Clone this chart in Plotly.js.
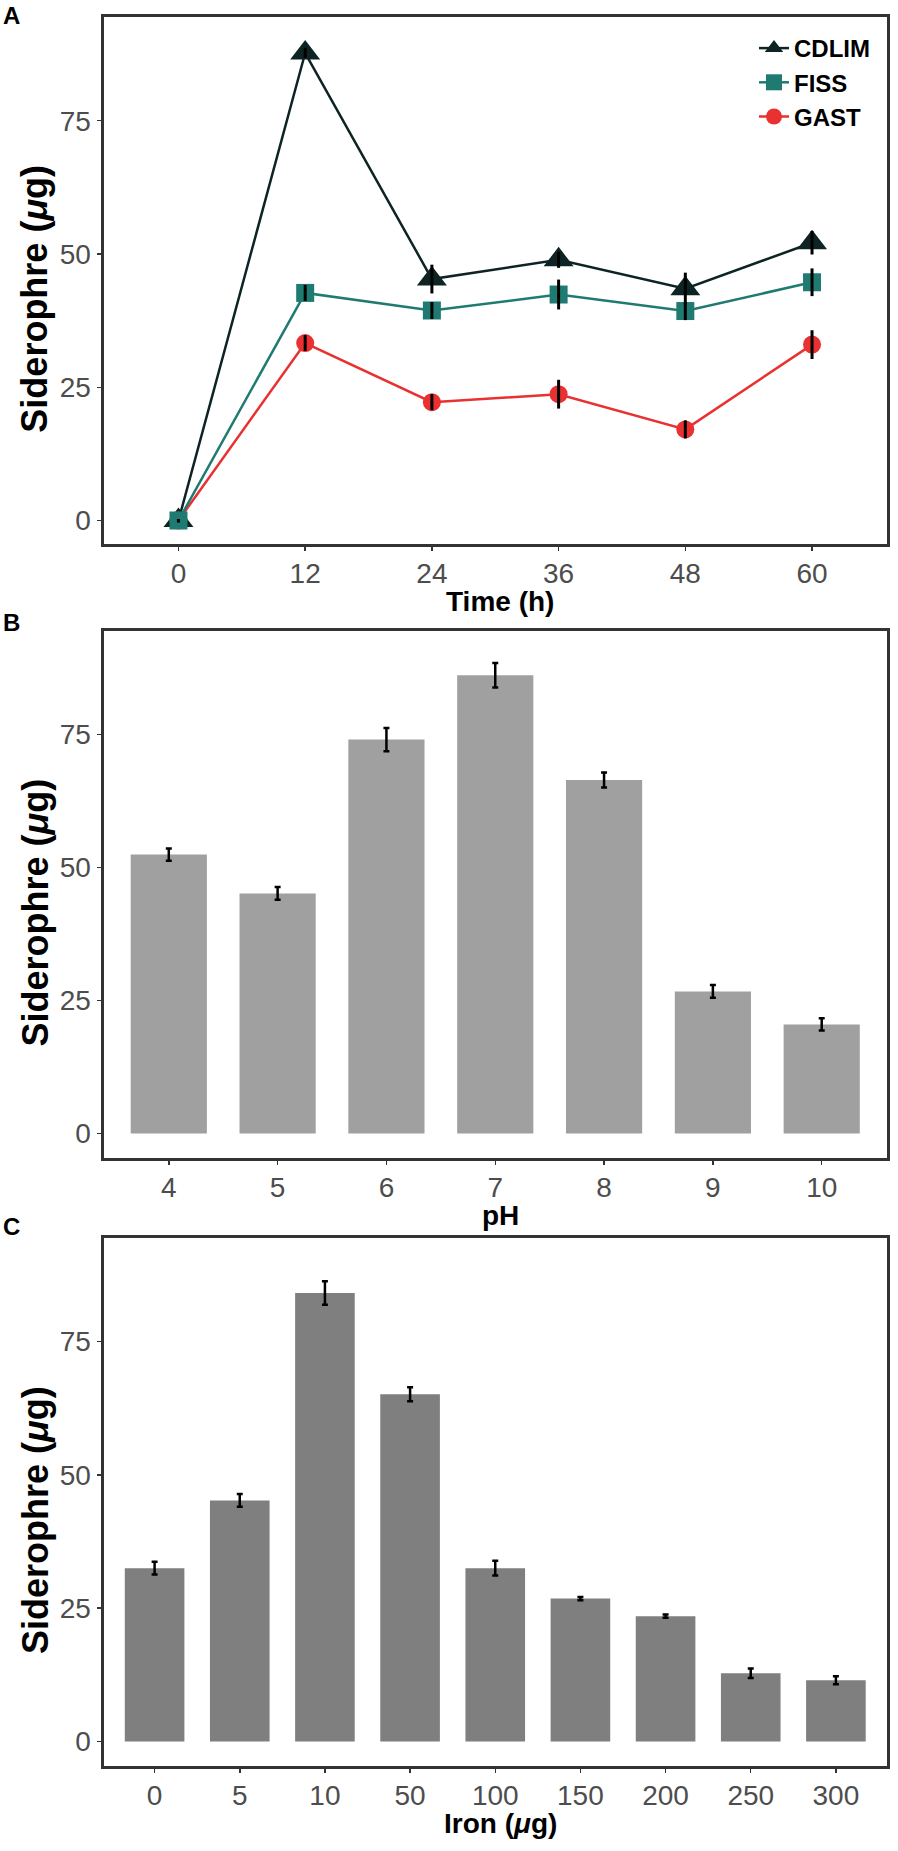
<!DOCTYPE html>
<html>
<head>
<meta charset="utf-8">
<script src="https://cdn.plot.ly/plotly-3.0.1.min.js"></script>
<style>
  html, body { margin: 0; padding: 0; background: #fff; }
  #graph { width: 898px; height: 1851px; }
</style>
</head>
<body>
<div id="graph"></div>
<script>
// Panel A: siderophore over time for three strains
const hours = [0, 12, 24, 36, 48, 60];
const cdlim = [0, 87.7, 45.3, 48.9, 43.5, 52.1];
const cdlimErr = [0.3, 1.0, 2.7, 1.5, 3.0, 2.2];
const fiss = [0, 42.7, 39.4, 42.4, 39.3, 44.7];
const fissErr = [0.3, 1.5, 1.6, 2.8, 1.7, 2.6];
const gast = [0, 33.3, 22.2, 23.7, 17.1, 33.0];
const gastErr = [0.3, 1.5, 1.5, 2.7, 1.7, 2.7];

// Panel B: pH
const phLevels = ['4', '5', '6', '7', '8', '9', '10'];
const phValues = [52.4, 45.1, 74.0, 86.1, 66.4, 26.7, 20.5];
const phErr = [1.15, 1.2, 2.2, 2.3, 1.4, 1.2, 1.15];

// Panel C: iron
const ironLevels = ['0', '5', '10', '50', '100', '150', '200', '250', '300'];
const ironValues = [32.5, 45.2, 84.1, 65.1, 32.5, 26.8, 23.5, 12.8, 11.5];
const ironErr = [1.2, 1.2, 2.2, 1.3, 1.4, 0.3, 0.3, 0.9, 0.75];

const yTicks = [0, 25, 50, 75];

const W = 898, H = 1851;
const px = v => v / W;           // pixel x -> paper
const py = v => 1 - v / H;       // pixel y (from top) -> paper

const FONT = 'Liberation Sans, Arial, Helvetica, sans-serif';
const colors = {CDLIM: '#0e2424', FISS: '#1f7b72', GAST: '#e83130'};

// plot frames in pixels (left, right, top, bottom)
const frameX = [103.5, 887];
const frames = {a: [17.3, 544], b: [631, 1158], c: [1238, 1766]};

function lineTrace(name, y, symbol, size, rank) {
  return {
    x: hours, y: y, name: name, legendrank: rank,
    type: 'scatter', mode: 'lines+markers',
    line: {color: colors[name], width: 2.5},
    marker: {color: colors[name], symbol: symbol, size: size},
    xaxis: 'x', yaxis: 'y'
  };
}

// error bars go in their own traces so they sit on top of the markers
function errTrace(y, err) {
  return {
    x: hours, y: y, type: 'scatter', mode: 'markers', showlegend: false,
    marker: {size: 1, color: 'rgba(0,0,0,0)'},
    error_y: {type: 'data', array: err, visible: true, color: '#000', thickness: 3, width: 0},
    xaxis: 'x', yaxis: 'y', hoverinfo: 'skip'
  };
}

const traces = [
  lineTrace('CDLIM', cdlim, 'triangle-up', 26, 1),
  lineTrace('GAST', gast, 'circle', 18, 3),
  lineTrace('FISS', fiss, 'square', 18, 2),
  errTrace(cdlim, cdlimErr),
  errTrace(gast, gastErr),
  errTrace(fiss, fissErr),
  {
    x: phLevels, y: phValues, type: 'bar', width: 0.7, showlegend: false,
    marker: {color: '#a0a0a0'},
    error_y: {type: 'data', array: phErr, visible: true, color: '#000', thickness: 2.5, width: 3},
    xaxis: 'x2', yaxis: 'y2'
  },
  {
    x: ironLevels, y: ironValues, type: 'bar', width: 0.7, showlegend: false,
    marker: {color: '#7f7f7f'},
    error_y: {type: 'data', array: ironErr, visible: true, color: '#000', thickness: 2.5, width: 3},
    xaxis: 'x3', yaxis: 'y3'
  }
];

function axisBase() {
  return {
    showline: true, mirror: true, linecolor: '#333333', linewidth: 3,
    showgrid: false, zeroline: false,
    ticks: 'outside', ticklen: 4, tickwidth: 1.5, tickcolor: '#333333',
    tickfont: {family: FONT, size: 28, color: '#4d4d4d'},
    fixedrange: true
  };
}

function xAxis(anchor, extra) {
  return Object.assign(axisBase(), {
    domain: [px(frameX[0]), px(frameX[1])], anchor: anchor,
    ticklabelstandoff: -2
  }, extra);
}

function yAxis(frame, range, anchor) {
  return Object.assign(axisBase(), {
    domain: [py(frame[1]), py(frame[0])], anchor: anchor,
    range: range, tickvals: yTicks
  });
}

const layout = {
  width: W, height: H,
  margin: {l: 0, r: 0, t: 0, b: 0},
  paper_bgcolor: '#fff', plot_bgcolor: '#fff',
  font: {family: FONT},
  showlegend: true,
  legend: {
    x: px(754), y: py(26), xanchor: 'left', yanchor: 'top',
    bgcolor: 'rgba(0,0,0,0)', itemwidth: 30,
    font: {family: FONT, size: 24, color: '#000', weight: 'bold'}
  },
  xaxis: xAxis('y', {range: [-7.1, 67.1], tickvals: hours}),
  yaxis: yAxis(frames.a, [-4.4, 94.4], 'x'),
  xaxis2: xAxis('y2', {type: 'category', range: [-0.6, 6.6]}),
  yaxis2: yAxis(frames.b, [-4.6, 94.4], 'x2'),
  xaxis3: xAxis('y3', {type: 'category', range: [-0.6, 8.6]}),
  yaxis3: yAxis(frames.c, [-4.6, 94.4], 'x3'),
  annotations: []
};

const yTitle = '<b>Siderophre (<i>μ</i>g)</b>';
const panels = [
  {label: 'A', labelY: 15.5, frame: frames.a, xTitle: '<b>Time (h)</b>'},
  {label: 'B', labelY: 623, frame: frames.b, xTitle: '<b>pH</b>'},
  {label: 'C', labelY: 1226, frame: frames.c, xTitle: '<b>Iron (<i>μ</i>g)</b>'}
];
const midX = (frameX[0] + frameX[1]) / 2;

panels.forEach(p => {
  const midY = (p.frame[0] + p.frame[1]) / 2;
  layout.annotations.push({
    text: '<b>' + p.label + '</b>', xref: 'paper', yref: 'paper',
    x: px(1), y: py(p.labelY), xanchor: 'left', yanchor: 'middle',
    showarrow: false, font: {family: FONT, size: 24, color: '#000'}
  });
  layout.annotations.push({
    text: yTitle, xref: 'paper', yref: 'paper', textangle: -90,
    x: px(35), y: py(midY + 18), xanchor: 'center', yanchor: 'middle',
    showarrow: false, font: {family: FONT, size: 36, color: '#000'}
  });
  layout.annotations.push({
    text: p.xTitle, xref: 'paper', yref: 'paper',
    x: px(midX + 5), y: py(p.frame[1] + 57), xanchor: 'center', yanchor: 'middle',
    showarrow: false, font: {family: FONT, size: 28, color: '#000'}
  });
});

Plotly.newPlot('graph', traces, layout, {displayModeBar: false, staticPlot: true});
</script>
</body>
</html>
